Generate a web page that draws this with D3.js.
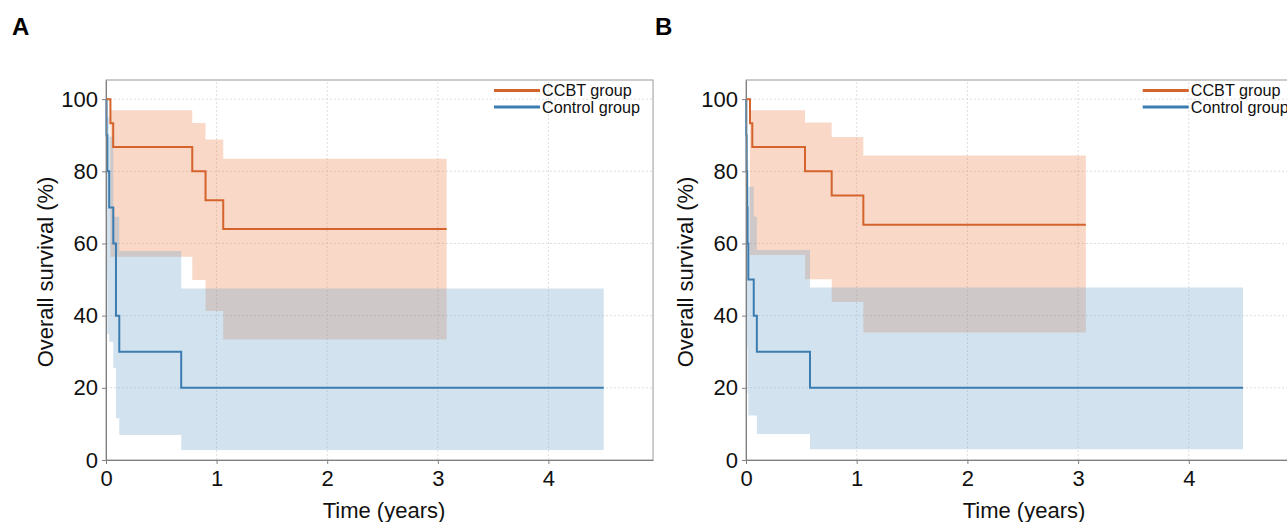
<!DOCTYPE html>
<html lang="en">
<head>
<meta charset="UTF-8">
<title>Overall survival</title>
<script src="https://cdn.jsdelivr.net/npm/d3@7"></script>
<style>
  body { margin: 0; background: #fff; }
  svg { font-family: "Liberation Sans", Arial, sans-serif; }
</style>
</head>
<body>
<svg id="chart" width="1287" height="522"></svg>
<script>
var yTicks = [0, 20, 40, 60, 80, 100];
var xTicks = [0, 1, 2, 3, 4];
var groups = ["CCBT group", "Control group"];
var lineColours = ["#d4632c", "#3b7cb1"];
var fillColours = ["rgb(235,125,72)", "rgb(105,162,202)"];

// panel A - each array: step start times (last = end of curve), survival %, CI bounds
var timeA_ccbt  = [0, 0.04, 0.065, 0.78, 0.90, 1.06, 3.08];
var survA_ccbt  = [100, 93.3, 86.7, 80, 72, 64, 64];
var upperA_ccbt = [100, 96.9, 96.9, 93.4, 88.8, 83.5, 83.5];
var lowerA_ccbt = [100, 56.3, 56.3, 49.9, 41.3, 33.4, 33.4];

var timeA_ctrl  = [0, 0.005, 0.012, 0.029, 0.066, 0.09, 0.12, 0.68, 4.50];
var survA_ctrl  = [100, 90, 80, 70, 60, 40, 30, 20, 20];
var upperA_ctrl = [100, 99, 95, 89.6, 67.4, 67.4, 57.9, 47.5, 47.5];
var lowerA_ctrl = [100, 50, 35, 32.8, 25.5, 11.6, 6.9, 2.8, 2.8];

// panel B
var timeB_ccbt  = [0, 0.036, 0.057, 0.533, 0.774, 1.06, 3.07];
var survB_ccbt  = [100, 93.3, 86.7, 80, 73.3, 65.2, 65.2];
var upperB_ccbt = [100, 96.9, 96.9, 93.5, 89.5, 84.4, 84.4];
var lowerB_ccbt = [100, 56.8, 56.8, 50.1, 43.8, 35.3, 35.3];

var timeB_ctrl  = [0, 0.003, 0.006, 0.01, 0.014, 0.021, 0.07, 0.098, 0.578, 4.49];
var survB_ctrl  = [100, 90, 80, 70, 60, 50, 40, 30, 20, 20];
var upperB_ctrl = [100, 99, 95, 89.6, 83, 75.7, 67.4, 58.2, 47.8, 47.8];
var lowerB_ctrl = [100, 55, 40, 31, 18.5, 12.3, 12.3, 7.2, 3.0, 3.0];

var svg = d3.select("#chart");

function rows(t, s, u, l) {
  return t.map(function(d, i) { return {t: d, s: s[i], u: u[i], l: l[i]}; });
}

function drawPanel(p) {
  var x = d3.scaleLinear().domain([0, p.xMax]).range([p.left, p.left + p.xMax * p.pxPerYear]);
  var y = d3.scaleLinear().domain([0, 105.3]).range([460, 80]);
  var right = x(p.xMax);
  var g = svg.append("g");

  // grid
  g.selectAll(".gx").data(xTicks.slice(1)).enter().append("line")
    .attr("x1", x).attr("x2", x).attr("y1", y(0)).attr("y2", y(105.3))
    .attr("stroke", "#dedede").attr("stroke-dasharray", "2,2");
  g.selectAll(".gy").data(yTicks.slice(1)).enter().append("line")
    .attr("y1", y).attr("y2", y).attr("x1", p.left).attr("x2", right)
    .attr("stroke", "#dedede").attr("stroke-dasharray", "2,2");

  var area = d3.area().curve(d3.curveStepAfter)
    .x(function(d) { return x(d.t); })
    .y0(function(d) { return y(d.l); })
    .y1(function(d) { return y(d.u); });
  var line = d3.line().curve(d3.curveStepAfter)
    .x(function(d) { return x(d.t); })
    .y(function(d) { return y(d.s); });

  g.append("path").attr("d", area(p.ccbt)).attr("fill", fillColours[0]).attr("fill-opacity", 0.3);
  g.append("path").attr("d", area(p.ctrl)).attr("fill", fillColours[1]).attr("fill-opacity", 0.3);

  // frame
  g.append("rect").attr("x", p.left).attr("y", y(105.3))
    .attr("width", right - p.left).attr("height", y(0) - y(105.3))
    .attr("fill", "none").attr("stroke", "#9a9a9a");

  g.append("path").attr("d", line(p.ctrl)).attr("fill", "none")
    .attr("stroke", lineColours[1]).attr("stroke-width", 2);
  g.append("path").attr("d", line(p.ccbt)).attr("fill", "none")
    .attr("stroke", lineColours[0]).attr("stroke-width", 2);

  // axes
  var ax = g.append("g").attr("transform", "translate(0," + y(0) + ")")
    .call(d3.axisBottom(x).tickValues(xTicks).tickFormat(d3.format("d"))
      .tickSize(4).tickSizeOuter(0).tickPadding(6));
  var ay = g.append("g").attr("transform", "translate(" + p.left + ",0)")
    .call(d3.axisLeft(y).tickValues(yTicks).tickFormat(d3.format("d"))
      .tickSize(4).tickSizeOuter(0).tickPadding(4));
  [ax, ay].forEach(function(a) {
    a.select(".domain").attr("stroke", "#808080");
    a.selectAll(".tick line").attr("stroke", "#808080");
    a.selectAll("text").attr("font-size", 22).attr("fill", "#111")
      .attr("font-family", "Liberation Sans, Arial, sans-serif");
  });
  ax.selectAll("text").attr("dy", "0.71em");

  g.append("text").attr("x", p.titleX).attr("y", 518)
    .attr("text-anchor", "middle").attr("font-size", 22).attr("fill", "#111")
    .text("Time (years)");
  g.append("text").attr("transform", "translate(" + (p.left - 53) + ",272) rotate(-90)")
    .attr("text-anchor", "middle").attr("font-size", 22).attr("fill", "#111")
    .text("Overall survival (%)");
  g.append("text").attr("x", p.labelX).attr("y", 35).attr("font-size", 24)
    .attr("font-weight", "bold").attr("fill", "#000").text(p.name);

  // legend
  var lg = g.append("g").attr("transform", "translate(" + (right - 159) + ",90.5)");
  groups.forEach(function(name, i) {
    lg.append("line").attr("x1", 0).attr("x2", 46).attr("y1", i * 16.5).attr("y2", i * 16.5)
      .attr("stroke", lineColours[i]).attr("stroke-width", 3);
    lg.append("text").attr("x", 48).attr("y", i * 16.5).attr("dy", "0.35em")
      .attr("font-size", 16.2).attr("fill", "#111").text(name);
  });
}

drawPanel({name: "A", labelX: 12, titleX: 384, left: 106, pxPerYear: 110.6, xMax: 4.946,
  ccbt: rows(timeA_ccbt, survA_ccbt, upperA_ccbt, lowerA_ccbt),
  ctrl: rows(timeA_ctrl, survA_ctrl, upperA_ctrl, lowerA_ctrl)});
drawPanel({name: "B", labelX: 655, titleX: 1024, left: 746, pxPerYear: 110.7, xMax: 5.02,
  ccbt: rows(timeB_ccbt, survB_ccbt, upperB_ccbt, lowerB_ccbt),
  ctrl: rows(timeB_ctrl, survB_ctrl, upperB_ctrl, lowerB_ctrl)});
</script>
</body>
</html>
